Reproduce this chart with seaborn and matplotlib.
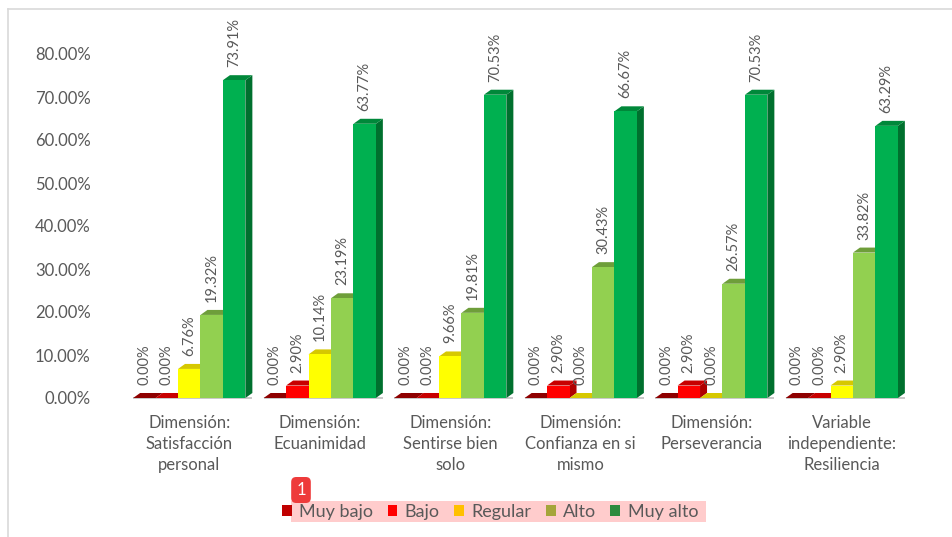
import pandas as pd
import numpy as np
import matplotlib.pyplot as plt
import seaborn as sns
from matplotlib.patches import Polygon, Patch, Rectangle
from matplotlib.lines import Line2D
from matplotlib.ticker import PercentFormatter

# Datos
categorias = ['Dimensión:\nSatisfacción\npersonal', 'Dimensión:\nEcuanimidad',
              'Dimensión:\nSentirse bien\nsolo', 'Dimensión:\nConfianza en si\nmismo',
              'Dimensión:\nPerseverancia', 'Variable\nindependiente:\nResiliencia']
niveles = ['Muy bajo', 'Bajo', 'Regular', 'Alto', 'Muy alto']
muy_bajo = [0.00, 0.00, 0.00, 0.00, 0.00, 0.00]
bajo = [0.00, 2.90, 0.00, 2.90, 2.90, 0.00]
regular = [6.76, 10.14, 9.66, 0.00, 0.00, 2.90]
alto = [19.32, 23.19, 19.81, 30.43, 26.57, 33.82]
muy_alto = [73.91, 63.77, 70.53, 66.67, 70.53, 63.29]

# Colores: cara frontal, cara superior, cara lateral, leyenda
frente = ['#C00000', '#FF0000', '#FFFF00', '#92D050', '#00B050']
arriba = ['#8E0000', '#C80000', '#D6C800', '#6E9E3A', '#00883A']
lado = ['#7A0000', '#B00000', '#BFB000', '#5E8A30', '#00702E']
col_leyenda = ['#C00000', '#FF0000', '#FFC000', '#A5A53A', '#2E8B3E']

series = [muy_bajo, bajo, regular, alto, muy_alto]
df = pd.DataFrame({
    'cat': categorias * len(niveles),
    'nivel': np.repeat(niveles, len(categorias)),
    'val': np.concatenate(series),
})

W, H = 953, 537
fig = plt.figure(figsize=(W / 100, H / 100), dpi=100)
plt.rcParams['font.family'] = ['Lato', 'DejaVu Sans']
gris = '#595959'

ax_l, ax_r = 124 / W, 907 / W
ax_b, ax_t = 1 - 398 / H, 1 - 54 / H
ax = fig.add_axes([ax_l, ax_b, ax_r - ax_l, ax_t - ax_b])

sns.barplot(data=df, x='cat', y='val', hue='nivel', hue_order=niveles,
            order=categorias, palette=dict(zip(niveles, frente)),
            width=0.86, saturation=1, legend=False, ax=ax, linewidth=0)

ax.set_xlim(-0.5, len(categorias) - 0.5)
ax.set_ylim(0, 80)

# Efecto 3D
px_x = (ax_r - ax_l) * W / len(categorias)
px_y = (ax_t - ax_b) * H / 80
dx, dy = 7 / px_x, 5 / px_y
for i, cont in enumerate(ax.containers):
    for bar in cont:
        x, w, h = bar.get_x(), bar.get_width(), bar.get_height()
        z = 2 + i * 0.1
        bar.set_zorder(z)
        ax.add_patch(Polygon([(x + w, 0), (x + w + dx, dy), (x + w + dx, h + dy), (x + w, h)],
                             closed=True, fc=lado[i], ec='none', zorder=z - 0.05))
        ax.add_patch(Polygon([(x, h), (x + dx, h + dy), (x + w + dx, h + dy), (x + w, h)],
                             closed=True, fc=arriba[i], ec='none', zorder=z - 0.05))
        ax.text(x + w / 2, h + dy + 8 / px_y, f'{h:.2f}%', rotation=90,
                ha='center', va='bottom', fontsize=10.5, color=gris, zorder=10)

# Piso de cada grupo
for j in range(len(categorias)):
    x0 = ax.containers[0][j].get_x()
    x1 = ax.containers[-1][j].get_x() + ax.containers[-1][j].get_width() + dx
    ax.plot([x0, x1], [0, 0], color='#BFBFBF', lw=1.2, zorder=1, solid_capstyle='butt',
            clip_on=False)

ax.yaxis.set_major_formatter(PercentFormatter(xmax=100, decimals=2))
ax.set_yticks(np.arange(0, 81, 10))
ax.tick_params(axis='y', length=0, pad=24, labelsize=12, labelcolor=gris)
ax.tick_params(axis='x', length=0, pad=12, labelsize=12, labelcolor=gris)
for lbl in ax.get_xticklabels():
    lbl.set_linespacing(1.4)
ax.set_xlabel('')
ax.set_ylabel('')
for s in ax.spines.values():
    s.set_visible(False)

# Borde del gráfico
fig.add_artist(Line2D([8 / W, 8 / W], [0, 1 - 9 / H], transform=fig.transFigure,
                      color='#D9D9D9', lw=1.2))
fig.add_artist(Line2D([8 / W, 1], [1 - 9 / H, 1 - 9 / H], transform=fig.transFigure,
                      color='#D9D9D9', lw=1.2))

# Resaltado de la leyenda
fig.patches.append(Rectangle((291 / W, 1 - 522 / H), 415 / W, 21 / H,
                             transform=fig.transFigure, fc='#FFCCCC', ec='none', zorder=0))

handles = [Patch(fc=c, ec='none') for c in col_leyenda]
fig.legend(handles, niveles, loc='center', bbox_to_anchor=(490 / W, 1 - 512 / H),
           ncol=5, frameon=False, fontsize=13, handlelength=0.55, handleheight=0.55,
           handletextpad=0.4, columnspacing=0.8, labelcolor=gris)

fig.text(301 / W, 1 - 490 / H, '1', ha='center', va='center', color='white', fontsize=12,
         bbox=dict(boxstyle='round,pad=0.3,rounding_size=0.3', fc='#EE3B3B', ec='none'))

fig.savefig('out.png', dpi=100)
